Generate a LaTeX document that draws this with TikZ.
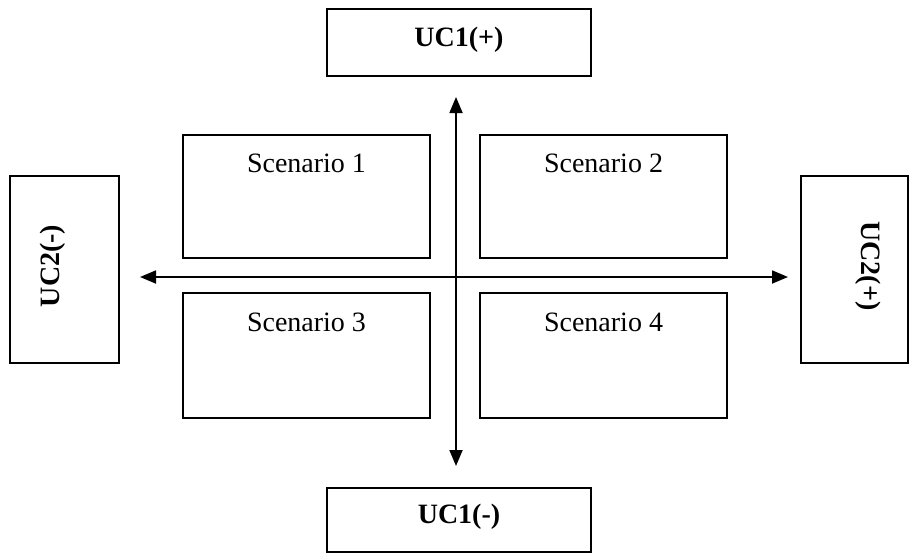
\documentclass[tikz,border=0pt]{standalone}
\usepackage{fontspec}
\setmainfont{Liberation Serif}
\usetikzlibrary{arrows.meta}
\begin{document}
\begin{tikzpicture}[x=1pt,y=-1pt,
  box/.style={draw=black, line width=1.6pt, rectangle, inner sep=0pt, fill=white},
  uclabel/.style={font=\fontsize{28}{32}\selectfont\bfseries, inner sep=0pt},
  sclabel/.style={font=\fontsize{28}{32}\selectfont, inner sep=0pt},
  axis/.style={line width=1.8pt, {Triangle[length=16pt,width=13pt]}-{Triangle[length=16pt,width=13pt]}}]
  \useasboundingbox (0,0) rectangle (912,554);
  % uncertainty poles
  \node[box, minimum width=264pt, minimum height=67pt] (uc1p) at (459,42.5) {};
  \node[uclabel] (uc1pt) at (459,40) {UC1(+)};
  \node[box, minimum width=264pt, minimum height=64pt] (uc1m) at (459,520) {};
  \node[uclabel] (uc1mt) at (459,517) {UC1(-)};
  \node[box, minimum width=109pt, minimum height=187pt] (uc2m) at (64.5,269.5) {};
  \node[uclabel, rotate=90] (uc2mt) at (53,266) {UC2(-)};
  \node[box, minimum width=107pt, minimum height=187pt] (uc2p) at (854.5,269.5) {};
  \node[uclabel, rotate=-90] (uc2pt) at (868,266) {UC2(+)};
  % scenario quadrants
  \node[box, minimum width=247pt, minimum height=123pt] (s1) at (306.5,196.5) {};
  \node[sclabel] (s1t) at (306.5,163) {Scenario 1};
  \node[box, minimum width=247pt, minimum height=123pt] (s2) at (603.5,196.5) {};
  \node[sclabel] (s2t) at (603.5,163) {Scenario 2};
  \node[box, minimum width=247pt, minimum height=125pt] (s3) at (306.5,355.5) {};
  \node[sclabel] (s3t) at (306.5,322) {Scenario 3};
  \node[box, minimum width=247pt, minimum height=125pt] (s4) at (603.5,355.5) {};
  \node[sclabel] (s4t) at (603.5,322) {Scenario 4};
  % axes
  \coordinate (vtop) at (456,97);
  \coordinate (vbot) at (456,466);
  \coordinate (hleft) at (140,277);
  \coordinate (hright) at (788,277);
  \draw[axis] (hleft) -- (hright);
  \draw[axis] (vbot) -- (vtop);
\end{tikzpicture}
\end{document}
